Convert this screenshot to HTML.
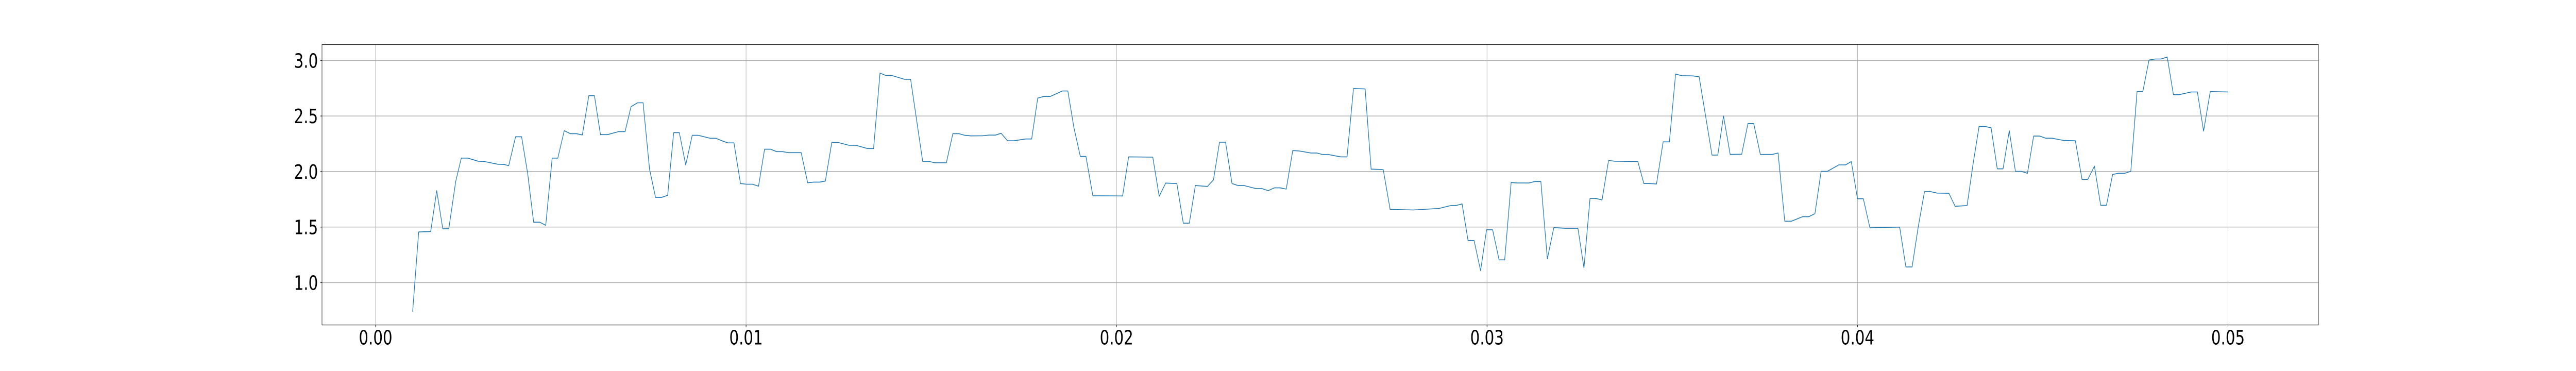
<!DOCTYPE html>
<html><head><meta charset="utf-8"><meta name="viewport" content="width=6480, initial-scale=1"><style>
html,body{margin:0;padding:0;background:#fff;width:100%;height:100%;overflow:hidden;}
svg{display:block;position:absolute;left:0;top:0;width:100vw;height:100vh;font-family:"DejaVu Sans","Liberation Sans",sans-serif;}
</style></head><body>
<svg id="chart" viewBox="0 0 6480 720" preserveAspectRatio="none" xmlns="http://www.w3.org/2000/svg"></svg>
<script>
const xTicks=[0.00,0.01,0.02,0.03,0.04,0.05];
const xTickLabels=["0.00","0.01","0.02","0.03","0.04","0.05"];
const yTicks=[1.0,1.5,2.0,2.5,3.0];
const yTickLabels=["1.0","1.5","2.0","2.5","3.0"];
// x in milliseconds (×1e-3)
const seriesX=[1.000,1.163,1.488,1.651,1.814,1.977,2.163,2.314,2.488,2.767,2.942,3.291,3.465,3.593,3.779,3.942,4.105,4.267,4.430,4.593,4.767,4.919,5.093,5.256,5.419,5.581,5.756,5.907,6.070,6.256,6.558,6.733,6.895,7.070,7.221,7.395,7.558,7.721,7.884,8.047,8.198,8.372,8.547,8.709,9.023,9.186,9.349,9.512,9.674,9.849,10.012,10.174,10.337,10.500,10.663,10.826,10.988,11.151,11.488,11.663,11.826,11.988,12.140,12.314,12.477,12.779,12.965,13.279,13.442,13.616,13.779,13.942,14.279,14.442,14.605,14.767,14.930,15.093,15.407,15.581,15.744,15.907,16.070,16.384,16.558,16.733,16.884,17.058,17.233,17.547,17.709,17.872,18.035,18.209,18.535,18.686,18.849,19.023,19.174,19.360,20.163,20.326,20.977,21.151,21.326,21.628,21.802,21.965,22.128,22.453,22.616,22.779,22.942,23.116,23.279,23.442,23.767,23.930,24.093,24.256,24.419,24.581,24.756,24.930,25.244,25.407,25.570,25.733,26.047,26.221,26.395,26.709,26.872,27.198,27.384,28.012,28.709,29.023,29.163,29.326,29.488,29.651,29.826,29.988,30.151,30.326,30.477,30.651,30.802,31.128,31.291,31.453,31.628,31.802,32.128,32.453,32.616,32.779,32.930,33.105,33.279,33.442,34.070,34.233,34.384,34.575,34.754,34.922,35.090,35.257,35.557,35.725,35.892,36.072,36.228,36.383,36.563,36.874,37.042,37.198,37.377,37.701,37.856,38.036,38.216,38.515,38.683,38.850,39.018,39.186,39.497,39.677,39.832,40.000,40.156,40.335,40.647,41.138,41.305,41.473,41.641,41.808,41.976,42.144,42.467,42.635,42.958,43.114,43.281,43.449,43.605,43.772,43.928,44.096,44.263,44.419,44.587,44.754,44.922,45.078,45.246,45.557,45.880,46.060,46.216,46.395,46.563,46.719,46.886,47.042,47.210,47.377,47.545,47.701,47.868,48.036,48.192,48.359,48.527,48.683,49.006,49.174,49.341,49.521,50.000];
const seriesY=[0.738,1.456,1.460,1.828,1.485,1.485,1.910,2.121,2.121,2.093,2.090,2.066,2.064,2.053,2.313,2.313,1.984,1.544,1.544,1.516,2.121,2.121,2.368,2.341,2.341,2.330,2.683,2.683,2.332,2.332,2.359,2.359,2.584,2.619,2.619,2.020,1.767,1.767,1.786,2.350,2.350,2.060,2.326,2.326,2.300,2.299,2.277,2.258,2.258,1.892,1.886,1.886,1.868,2.201,2.201,2.179,2.179,2.170,2.170,1.899,1.905,1.905,1.914,2.262,2.262,2.236,2.236,2.207,2.207,2.886,2.864,2.864,2.830,2.830,2.460,2.092,2.092,2.079,2.079,2.341,2.341,2.326,2.321,2.322,2.328,2.328,2.344,2.277,2.277,2.293,2.293,2.661,2.676,2.676,2.725,2.725,2.396,2.136,2.136,1.782,1.780,2.132,2.130,1.778,1.896,1.892,1.535,1.535,1.874,1.866,1.925,2.264,2.264,1.892,1.874,1.874,1.846,1.846,1.828,1.853,1.853,1.842,2.189,2.185,2.167,2.167,2.152,2.152,2.132,2.132,2.747,2.744,2.022,2.018,1.659,1.654,1.668,1.694,1.694,1.709,1.379,1.379,1.108,1.476,1.476,1.205,1.205,1.901,1.897,1.897,1.910,1.910,1.214,1.495,1.489,1.489,1.132,1.758,1.758,1.745,2.099,2.093,2.090,1.892,1.892,1.888,2.267,2.267,2.877,2.863,2.861,2.853,2.515,2.148,2.148,2.500,2.154,2.156,2.432,2.432,2.154,2.154,2.167,1.553,1.553,1.593,1.593,1.621,2.002,2.002,2.060,2.060,2.090,1.755,1.755,1.493,1.496,1.500,1.141,1.141,1.507,1.819,1.819,1.806,1.804,1.687,1.694,2.057,2.405,2.405,2.394,2.024,2.024,2.368,2.002,2.002,1.984,2.319,2.319,2.300,2.300,2.280,2.277,1.929,1.929,2.048,1.696,1.696,1.974,1.984,1.984,2.002,2.720,2.720,3.004,3.013,3.013,3.031,2.692,2.692,2.716,2.716,2.364,2.720,2.716];

const NS="http://www.w3.org/2000/svg";
const svg=document.getElementById('chart');
const L=810,R=5832,T=86.5,B=630.6;
const X0=-0.001446,X1=0.05244,Y0=0.619,Y1=3.143;
function sx(v){return L+(v-X0)/(X1-X0)*(R-L);}
function sy(v){return B-(v-Y0)/(Y1-Y0)*(B-T);}
function mk(tag,attrs){const e=document.createElementNS(NS,tag);for(const k in attrs)e.setAttribute(k,attrs[k]);svg.appendChild(e);return e;}

xTicks.forEach((t,i)=>{
  const g=mk('line',{x1:sx(t),x2:sx(t),y1:T,y2:B,stroke:'#b0b0b0','stroke-width':1.2});
  
  
  const tk=mk('line',{x1:sx(t),x2:sx(t),y1:B,y2:B+4,stroke:'#000','stroke-width':1.2});
  
  
  const tx=mk('text',{x:sx(t),y:B+38,'font-size':38,'text-anchor':'middle',fill:'#000'});
  tx.textContent=xTickLabels[i];
  
  
});
yTicks.forEach((t,i)=>{
  const g=mk('line',{x1:L,x2:R,y1:sy(t),y2:sy(t),stroke:'#b0b0b0','stroke-width':1.5});
  
  
  const tk=mk('line',{x1:L-4,x2:L,y1:sy(t),y2:sy(t),stroke:'#000','stroke-width':1.2});
  
  
  const tx=mk('text',{x:L-10,y:sy(t)+14,'font-size':38,'text-anchor':'end',fill:'#000'});
  tx.textContent=yTickLabels[i];
  
  
});
let d='';
for(let i=0;i<seriesX.length;i++){d+=(i?'L':'M')+sx(seriesX[i]/1000).toFixed(1)+','+sy(seriesY[i]).toFixed(1);}
const p=mk('path',{d:d,fill:'none',stroke:'#1f77b4','stroke-width':1.6,'stroke-linejoin':'round'});


const fr=mk('rect',{x:L,y:T,width:R-L,height:B-T,fill:'none',stroke:'#222','stroke-width':1.2});


</script>
</body></html>
